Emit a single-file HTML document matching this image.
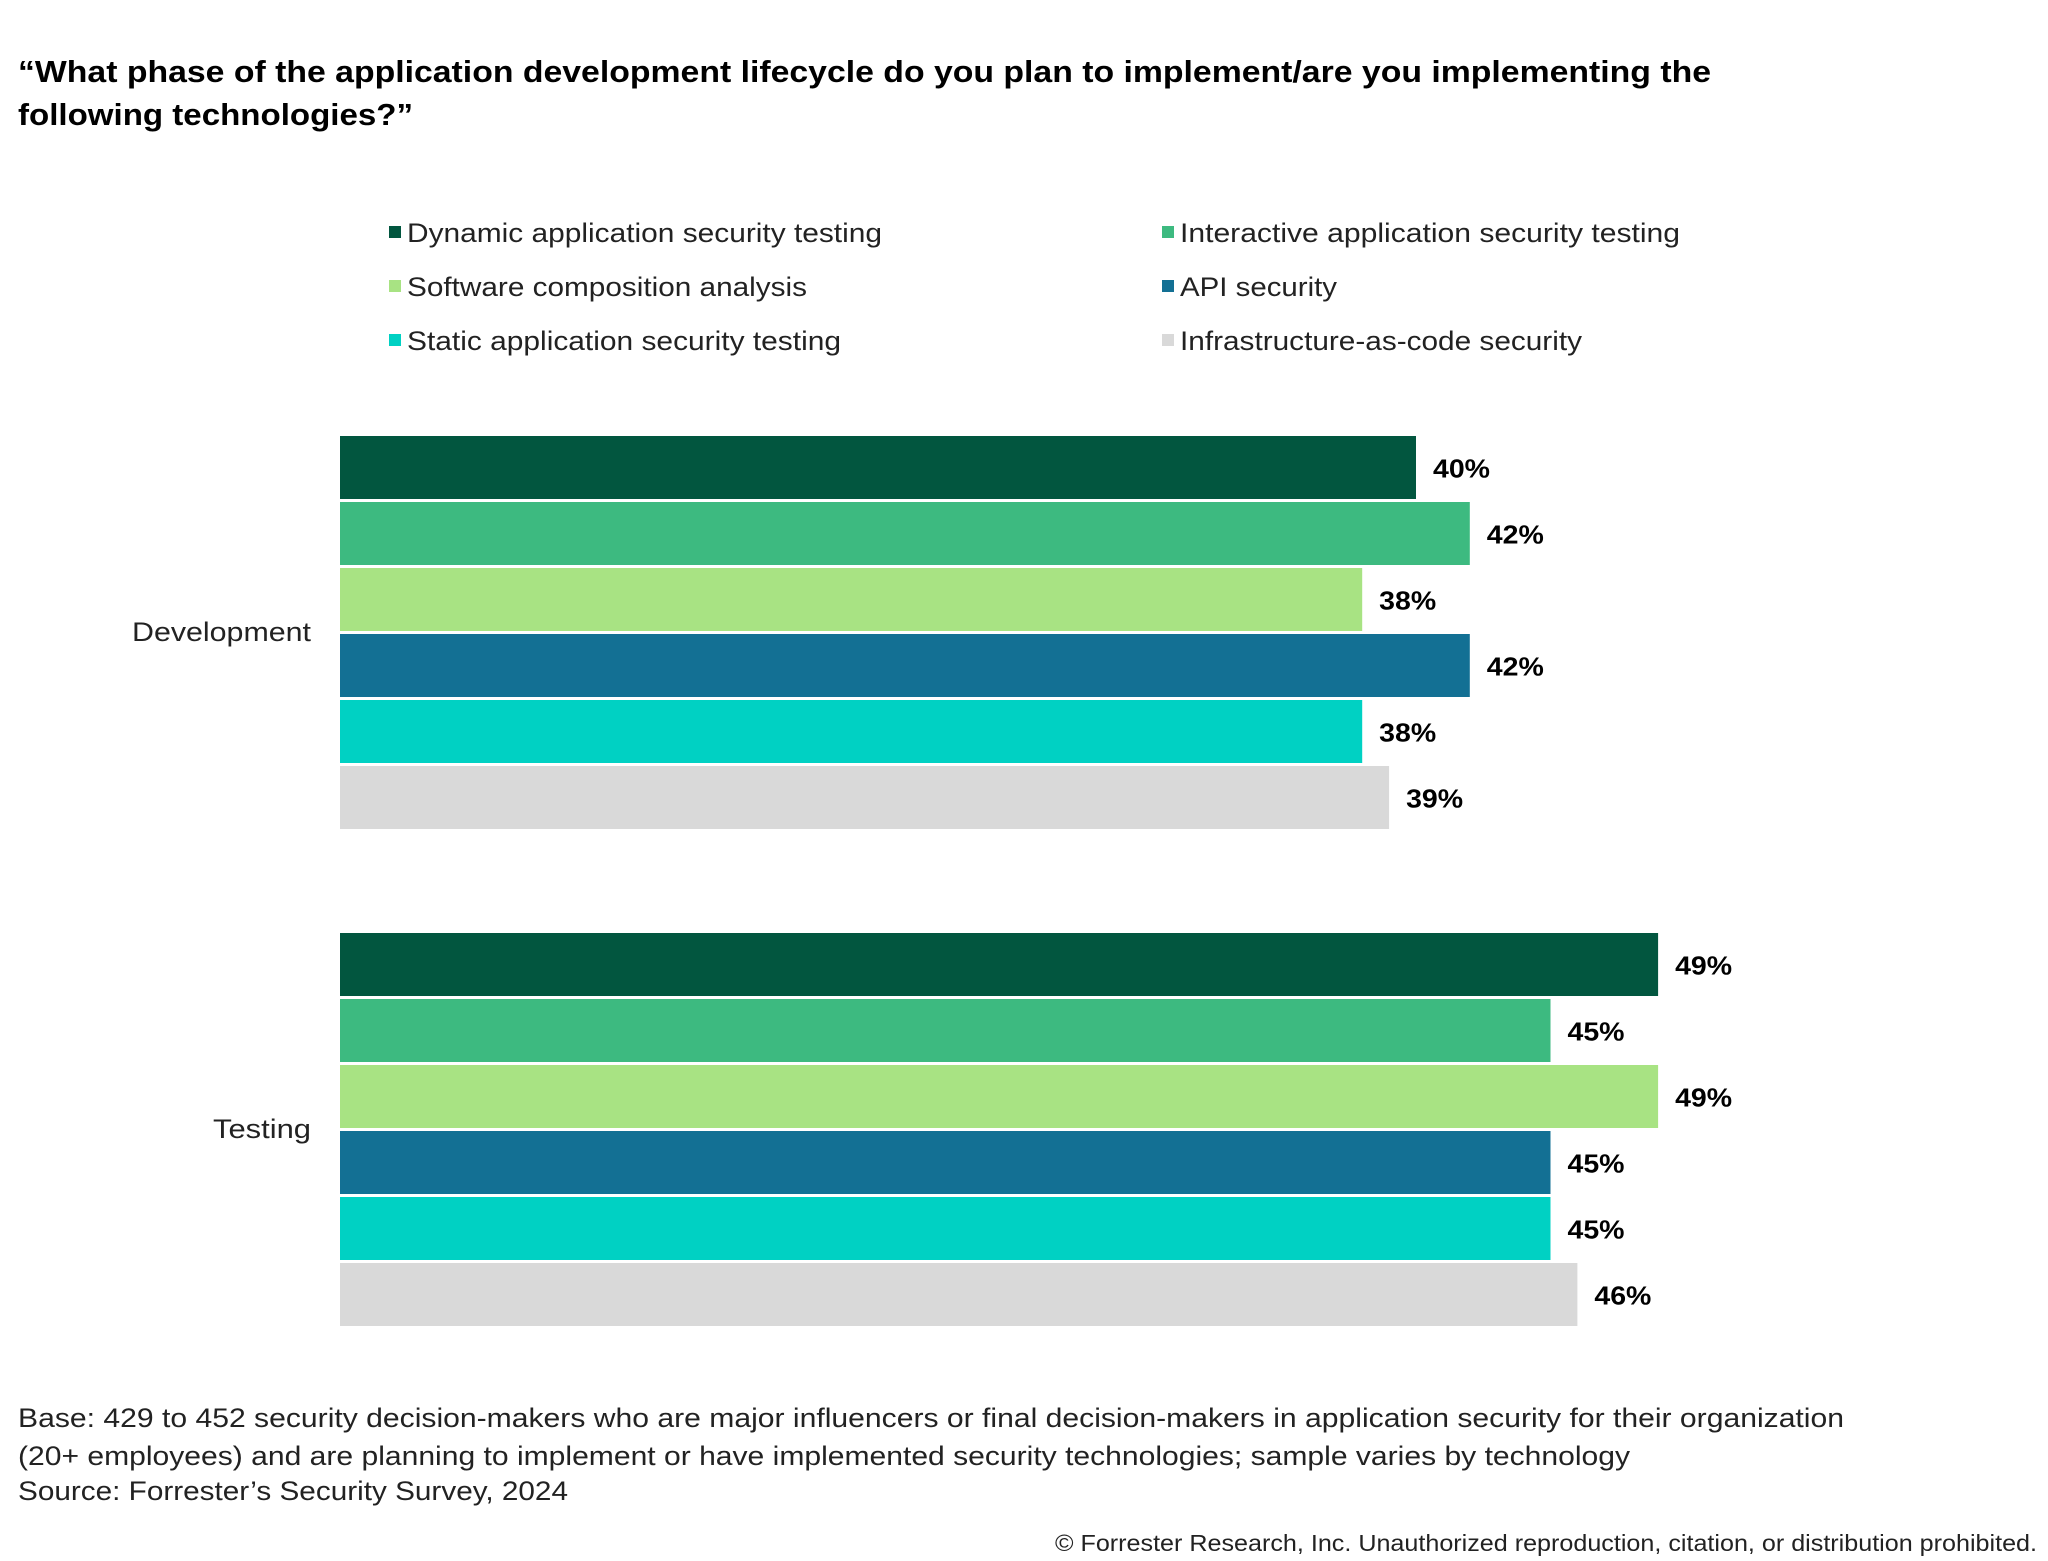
<!DOCTYPE html>
<html><head><meta charset="utf-8"><style>
html,body{margin:0;padding:0;background:#fff}
svg{display:block;font-family:"Liberation Sans",sans-serif}
</style></head><body>
<svg width="2048" height="1561" viewBox="0 0 2048 1561" xmlns="http://www.w3.org/2000/svg">
<text x="18" y="82" font-size="31" font-weight="bold" fill="#000" textLength="1693" lengthAdjust="spacingAndGlyphs">“What phase of the application development lifecycle do you plan to implement/are you implementing the</text>
<text x="18" y="125" font-size="31" font-weight="bold" fill="#000" textLength="395" lengthAdjust="spacingAndGlyphs">following technologies?”</text>
<g id="legend"></g>
<g id="bars"></g>
<text x="18" y="1427" font-size="27" fill="#222" textLength="1826" lengthAdjust="spacingAndGlyphs">Base: 429 to 452 security decision-makers who are major influencers or final decision-makers in application security for their organization</text>
<text x="18" y="1465" font-size="27" fill="#222" textLength="1612" lengthAdjust="spacingAndGlyphs">(20+ employees) and are planning to implement or have implemented security technologies; sample varies by technology</text>
<text x="18" y="1500" font-size="27" fill="#222" textLength="550" lengthAdjust="spacingAndGlyphs">Source: Forrester’s Security Survey, 2024</text>
<text x="2037" y="1551" font-size="23" fill="#222" text-anchor="end" textLength="982" lengthAdjust="spacingAndGlyphs">© Forrester Research, Inc. Unauthorized reproduction, citation, or distribution prohibited.</text>
</svg>
<script>
const categories = ["Development", "Testing"];
const seriesNames = ["Dynamic application security testing","Interactive application security testing","Software composition analysis","API security","Static application security testing","Infrastructure-as-code security"];
const devValues = [40, 42, 38, 42, 38, 39];
const testValues = [49, 45, 49, 45, 45, 46];
const colors = ["#02563f","#3dba80","#a8e383","#137094","#00d1c3","#d9d9d9"];
const legendWidths = [475, 500, 400, 157, 434, 402];
const catWidths = [179, 98];
const NS = "http://www.w3.org/2000/svg";
const x0 = 340, pxPer = 26.9;
const xs = v => x0 + v * pxPer;
const groupTop = [436, 933], barH = 63, step = 66;
function mk(tag, attrs, parent){const e=document.createElementNS(NS,tag);for(const k in attrs)e.setAttribute(k,attrs[k]);parent.appendChild(e);return e;}
const legend = document.getElementById('legend');
const lx = [389, 1162], ly = [232, 286, 340];
seriesNames.forEach((n,i)=>{
  const col=i%2,row=Math.floor(i/2);
  const r=mk('rect',{x:lx[col],y:ly[row]-6,width:12,height:12,fill:colors[i]},legend);
  
  
  const t=mk('text',{x:lx[col]+18,y:ly[row]+10,'font-size':27,fill:'#222',textLength:legendWidths[i],lengthAdjust:'spacingAndGlyphs'},legend);
  t.textContent=n;
  
  
});
const bars = document.getElementById('bars');
[devValues, testValues].forEach((vals,g)=>{
  const c=mk('text',{x:311,y:groupTop[g]+step*3+7,'font-size':27,fill:'#222','text-anchor':'end',textLength:catWidths[g],lengthAdjust:'spacingAndGlyphs'},bars);
  c.textContent=categories[g];
  
  
  vals.forEach((v,i)=>{
    const y=groupTop[g]+i*step;
    const r=mk('rect',{x:x0,y:y,width:xs(v)-x0,height:barH,fill:colors[i]},bars);
    
    
    const t=mk('text',{x:xs(v)+17,y:y+barH/2+10,'font-size':26,'font-weight':'bold',fill:'#000',textLength:57,lengthAdjust:'spacingAndGlyphs'},bars);
    t.textContent=v+'%';
    
    
  });
});
</script>
</body></html>
